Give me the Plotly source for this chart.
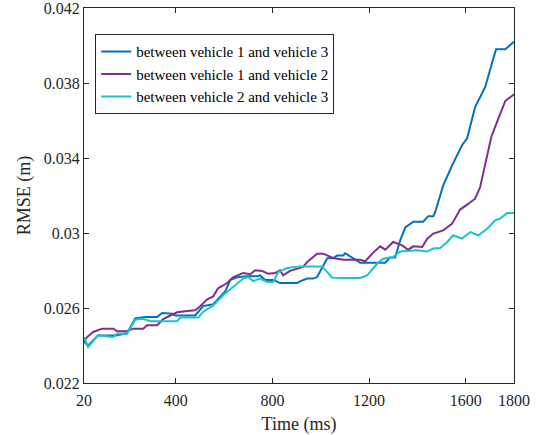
import plotly.graph_objects as go

# ---- data ----
t_13 = [20, 37, 78, 149, 198, 232, 273, 323, 343, 385, 397, 480, 513, 555, 605, 626, 654, 695, 737, 749,
        770, 803, 832, 902, 914, 944, 969, 985, 1027, 1051, 1068, 1093, 1101, 1155, 1163, 1267, 1287, 1308,
        1329, 1350, 1383, 1424, 1445, 1466, 1474, 1507, 1544, 1585, 1606, 1639, 1681, 1710, 1726, 1764, 1800]
v_13 = [0.0242, 0.0240, 0.02454, 0.02454, 0.02465, 0.02545, 0.02552, 0.02552, 0.02573, 0.0257, 0.0256,
        0.0256, 0.0261, 0.0262, 0.0269, 0.0275, 0.02764, 0.0277, 0.0277, 0.02774, 0.0275, 0.0275, 0.02733,
        0.02733, 0.02742, 0.02757, 0.02757, 0.02765, 0.02865, 0.02865, 0.0288, 0.0288, 0.02892, 0.02845,
        0.02842, 0.02842, 0.0287, 0.0287, 0.02961, 0.0303, 0.0306, 0.0306, 0.0309, 0.0309, 0.03112, 0.03254,
        0.03361, 0.03468, 0.03505, 0.03672, 0.03779, 0.03912, 0.0398, 0.0398, 0.0402]

t_12 = [20, 33, 58, 95, 141, 157, 198, 223, 265, 281, 323, 348, 377, 406, 447, 480, 501, 530, 555, 575,
        613, 637, 679, 708, 729, 757, 782, 811, 832, 844, 873, 902, 927, 944, 985, 1010, 1051, 1093, 1163,
        1184, 1213, 1246, 1267, 1300, 1337, 1362, 1383, 1420, 1441, 1466, 1507, 1544, 1577, 1610, 1639,
        1660, 1681, 1706, 1735, 1764, 1800]
v_12 = [0.0242, 0.02445, 0.02472, 0.0249, 0.0249, 0.02476, 0.02476, 0.0249, 0.0249, 0.02508, 0.02508,
        0.02541, 0.0256, 0.02577, 0.02584, 0.02588, 0.02609, 0.02646, 0.02662, 0.02705, 0.02733, 0.02764,
        0.02787, 0.0278, 0.02801, 0.02798, 0.02783, 0.02787, 0.02801, 0.02774, 0.02798, 0.0281, 0.02819,
        0.02845, 0.0289, 0.0289, 0.02867, 0.02858, 0.02858, 0.02849, 0.0289, 0.02929, 0.02911, 0.02952,
        0.02934, 0.02911, 0.02929, 0.02925, 0.0297, 0.02997, 0.03014, 0.0305, 0.03125, 0.03155, 0.03183,
        0.03245, 0.0337, 0.03512, 0.0361, 0.03704, 0.0374]

t_23 = [20, 37, 78, 141, 157, 198, 232, 265, 294, 406, 418, 493, 513, 555, 596, 637, 679, 700, 720, 749,
        778, 803, 824, 861, 914, 1006, 1047, 1093, 1163, 1192, 1234, 1258, 1300, 1329, 1399, 1441, 1466,
        1494, 1524, 1548, 1585, 1619, 1652, 1689, 1722, 1743, 1772, 1800]
v_23 = [0.02445, 0.02392, 0.02454, 0.02445, 0.02463, 0.02463, 0.02538, 0.02543, 0.0253, 0.0253, 0.02549,
        0.02549, 0.02579, 0.02614, 0.02668, 0.02712, 0.02757, 0.02765, 0.02744, 0.02757, 0.02739, 0.02739,
        0.02792, 0.02813, 0.02822, 0.02822, 0.02762, 0.0276, 0.0276, 0.02774, 0.02837, 0.02863, 0.02872,
        0.02902, 0.02908, 0.02902, 0.02917, 0.0292, 0.02952, 0.02988, 0.0297, 0.03005, 0.02988, 0.03023,
        0.03068, 0.03077, 0.03107, 0.03107]

names = ["between vehicle 1 and vehicle 3",
         "between vehicle 1 and vehicle 2",
         "between vehicle 2 and vehicle 3"]
colors = ["#0072BD", "#7E2F8E", "#1CC3C8"]

x_ticks = [20, 400, 800, 1200, 1600, 1800]
x_ticktext = ["20", "400", "800", "1200", "1600", "1800"]
y_ticks = [0.022, 0.026, 0.030, 0.034, 0.038, 0.042]
y_ticktext = ["0.022", "0.026", "0.03", "0.034", "0.038", "0.042"]

SERIF = "Liberation Serif, Times New Roman, Times, serif"

fig = go.Figure()
for t, v, n, c in zip([t_13, t_12, t_23], [v_13, v_12, v_23], names, colors):
    fig.add_trace(go.Scatter(x=t, y=v, mode="lines", name=n,
                             line=dict(color=c, width=2)))

axis_common = dict(showgrid=False, zeroline=False, showline=True, linecolor="#262626",
                   linewidth=1, mirror="ticks", ticks="inside", ticklen=5, tickcolor="#262626",
                   ticklabeloverflow="allow", automargin=False,
                   tickfont=dict(family=SERIF, size=16, color="#262626"))

fig.update_layout(
    width=546, height=435,
    margin=dict(l=84, r=32, t=8, b=52),
    paper_bgcolor="white", plot_bgcolor="white",
    font=dict(family=SERIF, size=16, color="#262626"),
    xaxis=dict(range=[20, 1800], tickvals=x_ticks, ticktext=x_ticktext,
               ticklabelstandoff=3,
               title=dict(text="Time (ms)", font=dict(family=SERIF, size=18), standoff=9),
               **axis_common),
    yaxis=dict(range=[0.022, 0.042], tickvals=y_ticks, ticktext=y_ticktext,
               title=dict(text="RMSE (m)", font=dict(family=SERIF, size=18), standoff=8),
               **axis_common),
    legend=dict(x=0.026, y=0.93, xanchor="left", yanchor="top",
                bgcolor="white", bordercolor="#262626", borderwidth=1,
                font=dict(family=SERIF, size=15, color="#000000"),
                tracegroupgap=0, itemwidth=30),
    showlegend=True,
)

fig.write_html("out.html")
